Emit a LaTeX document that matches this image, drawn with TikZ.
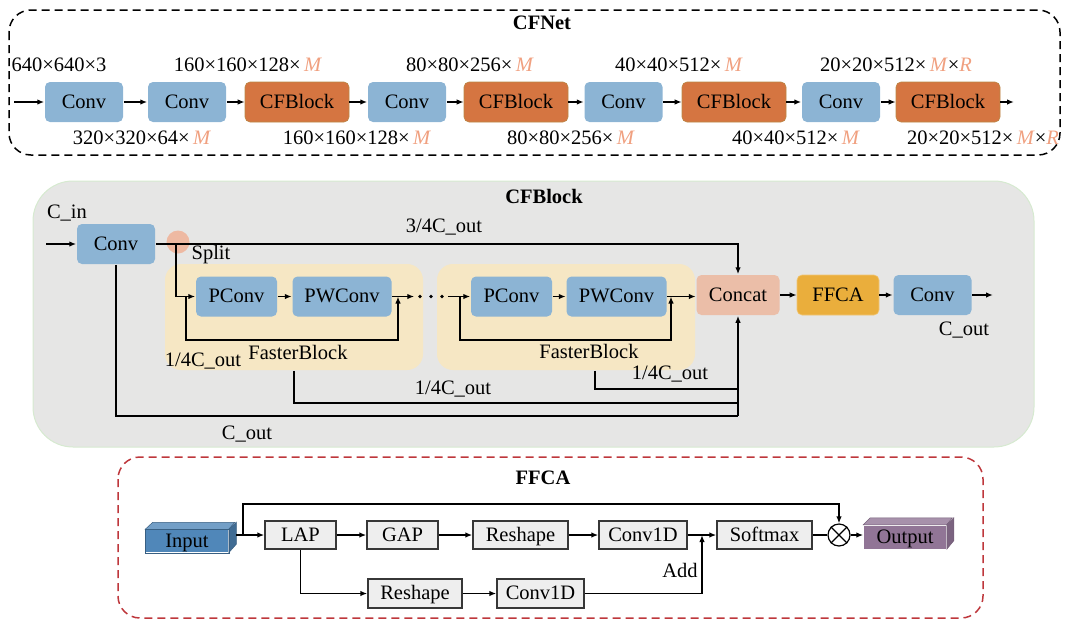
\documentclass[tikz,border=0pt]{standalone}
\usepackage{fontspec}
\setmainfont{Liberation Serif}
\usetikzlibrary{arrows.meta}

\definecolor{convblue}{RGB}{140,180,212}
\definecolor{cfborange}{RGB}{213,117,65}
\definecolor{cfbedge}{RGB}{185,135,70}
\definecolor{mlabel}{RGB}{240,160,128}
\definecolor{panelgray}{RGB}{230,230,229}
\definecolor{panelgreen}{RGB}{214,234,208}
\definecolor{fbyellow}{RGB}{246,231,196}
\definecolor{concatpink}{RGB}{235,190,168}
\definecolor{ffcaorange}{RGB}{234,174,60}
\definecolor{splitpink}{RGB}{242,170,140}
\definecolor{ffcared}{RGB}{190,55,60}
\definecolor{boxgray}{RGB}{238,238,238}
\definecolor{boxedge}{RGB}{55,55,55}
\definecolor{inblue}{RGB}{80,135,185}
\definecolor{outpurple}{RGB}{145,117,150}

\newcommand{\varM}{\textcolor{mlabel}{\textit{M}}}
\newcommand{\varR}{\textcolor{mlabel}{\textit{R}}}

\begin{document}
\begin{tikzpicture}[x=1pt, y=-1pt, >={Latex[length=7pt,width=5.5pt]}, line width=1.5pt,
	font=\fontsize{20.5}{24}\selectfont,
	blk/.style={rounded corners=5pt, minimum height=40pt, inner sep=0pt, text height=14pt, text depth=1.5pt},
	convbox/.style={blk, fill=convblue, minimum width=78pt},
	cfbbox/.style={blk, fill=cfborange, draw=cfbedge, line width=0.6pt, minimum width=104pt},
	txt/.style={inner sep=0pt},
	title/.style={inner sep=0pt, font=\fontsize{20.5}{24}\selectfont\bfseries},
	fbpanel/.style={fill=fbyellow, rounded corners=16pt, minimum width=258pt, minimum height=106pt, inner sep=0pt},
	opbox/.style={draw=boxedge, fill=boxgray, line width=1.4pt, minimum height=28pt, inner sep=0pt, text height=14pt, text depth=1.5pt},
	cube/.style={minimum width=82pt, minimum height=22pt, inner sep=0pt, text height=14pt, text depth=1pt}]

\useasboundingbox (0,0) rectangle (1065,619);

% CFNet
\draw[dashed, dash pattern=on 8pt off 5pt, rounded corners=22pt] (9,10) rectangle (1060,155);
\node[title] (netname) at (542,23) {CFNet};

\node[convbox] (c1) at (84,102) {Conv};
\node[convbox] (c2) at (187,102) {Conv};
\node[cfbbox] (b1) at (297,102) {CFBlock};
\node[convbox] (c3) at (407,102) {Conv};
\node[cfbbox] (b2) at (516,102) {CFBlock};
\node[convbox] (c4) at (623.5,102) {Conv};
\node[cfbbox] (b3) at (734,102) {CFBlock};
\node[convbox] (c5) at (841,102) {Conv};
\node[cfbbox] (b4) at (948,102) {CFBlock};
\coordinate (netin) at (14,102);
\coordinate (netout) at (1014,102);

\foreach \a/\b in {netin/c1, c1/c2, c2/b1, b1/c3, c3/b2, b2/c4, c4/b3, b3/c5, c5/b4, b4/netout}
	\draw[->] (\a) -- (\b);

\node[txt] (t1) at (59,65) {640×640×3};
\node[txt] (t2) at (248,65) {160×160×128×\,\varM};
\node[txt] (t3) at (470,65) {80×80×256×\,\varM};
\node[txt] (t4) at (679,65) {40×40×512×\,\varM};
\node[txt] (t5) at (896,65) {20×20×512×\,\varM×\varR};
\node[txt] (s1) at (142,138) {320×320×64×\,\varM};
\node[txt] (s2) at (357,138) {160×160×128×\,\varM};
\node[txt] (s3) at (571,138) {80×80×256×\,\varM};
\node[txt] (s4) at (796,138) {40×40×512×\,\varM};
\node[txt] (s5) at (983,138) {20×20×512×\,\varM×\varR};

% CFBlock
\filldraw[fill=panelgray, draw=panelgreen, line width=1pt, rounded corners=40pt] (33,181) rectangle (1034,447);
\node[title] (blkname) at (544,196) {CFBlock};

\node[fbpanel] (fb1) at (294,317) {};
\node[fbpanel] (fb2) at (566,317) {};
\fill[splitpink, opacity=0.75] (178,242) circle (11.5);

\node[convbox] (cin) at (116,244) {Conv};
\node[convbox, minimum width=81pt] (pc1) at (236.5,296.5) {PConv};
\node[convbox, minimum width=99pt] (pw1) at (342,296.5) {PWConv};
\node[convbox, minimum width=81pt] (pc2) at (511.5,296.5) {PConv};
\node[convbox, minimum width=100pt] (pw2) at (616.5,296.5) {PWConv};
\node[blk, fill=concatpink, minimum width=83pt] (cat) at (738,295) {Concat};
\node[blk, fill=ffcaorange, draw=ffcaorange!70!white, line width=0.6pt, minimum width=82pt] (ffca) at (838,295) {FFCA};
\node[convbox] (cout) at (932.5,295) {Conv};
\node[inner sep=0pt, minimum width=32pt, minimum height=6pt] (dots) at (431,296.5) {};
\foreach \x in {-11,0,11}
	\fill ([xshift=\x pt]dots.center) circle (1.9);

\coordinate (blkin) at (46,244);
\coordinate (split) at (176,244);
\coordinate (r1) at (186,296.5);
\coordinate (a1) at (398,296.5);
\coordinate (r2) at (460,296.5);
\coordinate (a2) at (671,296.5);
\coordinate (j1) at (738,403);
\coordinate (j2) at (738,389);
\coordinate (j3) at (738,416);
\coordinate (blkout) at (993,295);

\draw[->] (blkin) -- (cin);
\draw[->] (cin.east) -| (cat.north);
\draw[->] (split) |- (pc1.west);
\draw[->] (pc1) -- (pw1);
\draw[->] (r1) -- ++(0,43.5) -| (a1);
\draw[->] (pw1.east) -- (dots.west);
\draw[->] (dots.east) -- (pc2.west);
\draw[->] (pc2) -- (pw2);
\draw[->] (r2) -- ++(0,43.5) -| (a2);
\draw[->] (pw2.east) -- (pw2.east -| cat.west);
\draw (fb1.south) |- (j1);
\draw ([xshift=29pt]fb2.south) |- (j2);
\draw (cin.south) |- (j3);
\draw[->] (j3) -- (cat.south);
\draw[->] (cat) -- (ffca);
\draw[->] (ffca) -- (cout);
\draw[->] (cout) -- (blkout);

\node[txt] (lin) at (67,213) {C\_in};
\node[txt] (l34) at (444,227) {3/4C\_out};
\node[txt] (lsplit) at (211,255) {Split};
\node[txt] (lfb1) at (298,352) {FasterBlock};
\node[txt] (lfb2) at (589,351) {FasterBlock};
\node[txt] (lq1) at (203,361) {1/4C\_out};
\node[txt] (lq2) at (453,389) {1/4C\_out};
\node[txt] (lq3) at (670,374) {1/4C\_out};
\node[txt] (lall) at (247,434) {C\_out};
\node[txt] (lres) at (964,330) {C\_out};

% FFCA
\draw[ffcared, dashed, dash pattern=on 8pt off 5pt, rounded corners=22pt] (118,457) rectangle (983,618);
\node[title] (ffcaname) at (543,478) {FFCA};

\node[cube, fill=inblue] (input) at (187,541) {Input};
\filldraw[fill=inblue!80!white, draw=inblue!70!black, line width=0.5pt]
	(input.north west) -- ++(7.5,-7) -- ++(82,0) -- (input.north east) -- cycle;
\filldraw[fill=inblue!80!black, draw=inblue!70!black, line width=0.5pt]
	(input.north east) -- ++(7.5,-7) -- ++(0,22) -- (input.south east) -- cycle;
\draw[inblue!70!black, line width=0.5pt] (input.north west) rectangle (input.south east);

\node[cube, fill=outpurple, minimum height=23pt] (output) at (905,537) {Output};
\filldraw[fill=outpurple!80!white, draw=outpurple!80!black, line width=0.5pt]
	(output.north west) -- ++(7,-7) -- ++(82,0) -- (output.north east) -- cycle;
\filldraw[fill=outpurple!85!black, draw=outpurple!80!black, line width=0.5pt]
	(output.north east) -- ++(7,-7) -- ++(0,23) -- (output.south east) -- cycle;

\node[opbox, minimum width=71pt] (lap) at (300.5,535) {LAP};
\node[opbox, minimum width=71pt] (gap) at (402.5,535) {GAP};
\node[opbox, minimum width=95pt] (rs1) at (520.5,535) {Reshape};
\node[opbox, minimum width=88pt] (cv1) at (643,535) {Conv1D};
\node[opbox, minimum width=95pt] (smax) at (764.5,535) {Softmax};
\node[opbox, minimum width=94pt, minimum height=29pt] (rs2) at (415,593.5) {Reshape};
\node[opbox, minimum width=87pt, minimum height=29pt] (cv2) at (540.5,593.5) {Conv1D};
\node[draw, circle, line width=1.2pt, minimum size=22pt, inner sep=0pt] (mul) at (839,535) {};
\draw[line width=1.2pt] (mul.north west) -- (mul.south east) (mul.north east) -- (mul.south west);

\coordinate (inR) at (236,535);
\coordinate (fork) at (243,535);
\coordinate (ftop) at (243,504);
\coordinate (addj) at (702,535);

\draw[->] (inR) -- (lap.west);
\draw[->] (fork) -- (ftop) -| (mul.north);
\draw[->] (lap) -- (gap);
\draw[->] (gap) -- (rs1);
\draw[->] (rs1) -- (cv1);
\draw[->] (cv1) -- (smax);
\draw[->] (lap.south) |- (rs2.west);
\draw[->] (rs2) -- (cv2);
\draw[->] (cv2.east) -| (addj);
\draw (smax) -- (mul);
\draw[->] (mul.east) -- (mul.east -| output.west);

\node[txt] (ladd) at (680,570) {Add};

\end{tikzpicture}
\end{document}
